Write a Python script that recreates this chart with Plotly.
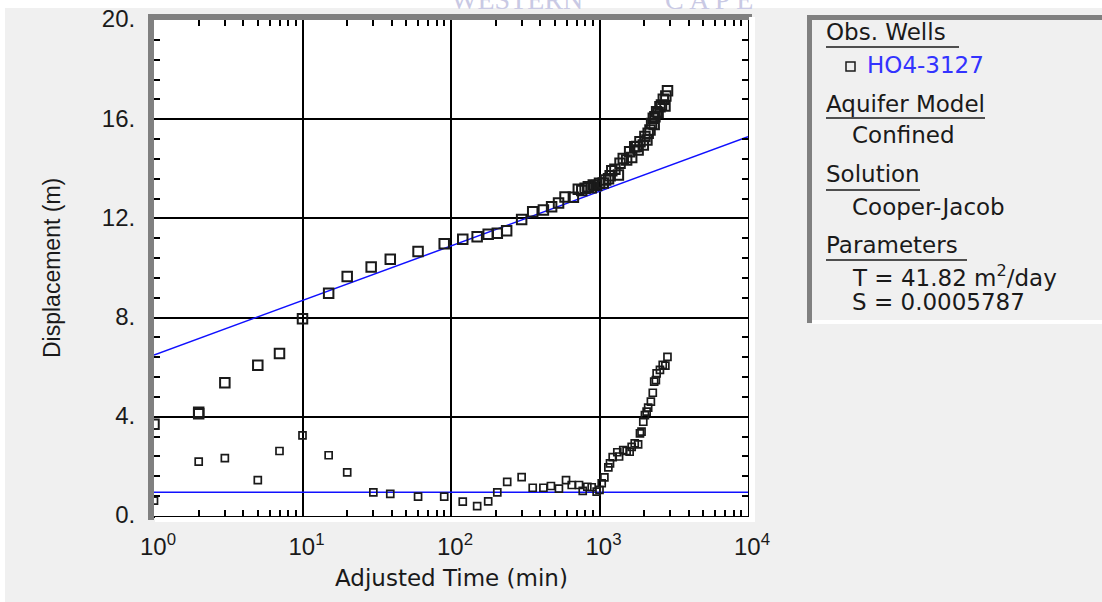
import plotly.graph_objects as go

# Observed drawdown at the observation well (time in min, displacement in m)
obs_time = [1.0, 2.0, 2.0, 3.0, 5.0, 7.0, 10, 15, 20, 29, 39, 60, 90, 120, 150, 178,
            205, 237, 299, 355, 419, 476, 530, 586, 667, 720, 760, 800, 841, 880,
            908, 957, 1000, 1060, 1100, 1150, 1180, 1210, 1270, 1340, 1375, 1445,
            1523, 1596, 1647, 1727, 1780, 1820, 1873, 1972, 2022, 2086, 2127, 2188,
            2244, 2303, 2335, 2361, 2425, 2481, 2553, 2614, 2690, 2760, 2797, 2870]
obs_disp = [3.70, 4.12, 4.18, 5.37, 6.08, 6.55, 7.95, 8.98, 9.66, 10.04, 10.35, 10.67,
            10.98, 11.16, 11.26, 11.36, 11.40, 11.50, 11.96, 12.27, 12.34, 12.47,
            12.62, 12.86, 12.85, 13.18, 13.12, 13.22, 13.28, 13.24, 13.35, 13.33,
            13.42, 13.43, 13.55, 13.60, 13.72, 13.92, 13.98, 13.75, 14.22, 14.42,
            14.35, 14.69, 14.46, 14.89, 14.90, 14.76, 15.09, 14.96, 15.30, 15.16,
            15.43, 15.56, 15.83, 16.04, 15.79, 16.10, 16.30, 16.26, 16.50, 16.57,
            16.80, 16.53, 16.94, 17.15]

# Drawdown derivative
der_time = [1.0, 2.0, 3.0, 5.0, 7.0, 10, 15, 20, 30, 39, 60, 90, 120, 150, 178, 205,
            239, 299, 355, 419, 471, 533, 595, 650, 728, 771, 828, 886, 957, 1000,
            1035, 1079, 1147, 1177, 1227, 1318, 1355, 1445, 1523, 1596, 1647, 1727,
            1820, 1873, 1919, 1972, 2022, 2077, 2127, 2218, 2285, 2335, 2397, 2425,
            2553, 2666, 2777, 2869]
der_disp = [0.62, 2.19, 2.33, 1.45, 2.62, 3.25, 2.45, 1.76, 0.95, 0.89, 0.78, 0.78,
            0.58, 0.40, 0.59, 0.95, 1.38, 1.57, 1.14, 1.14, 1.21, 1.10, 1.45, 1.25,
            1.25, 1.01, 1.18, 1.16, 0.98, 1.05, 1.32, 1.56, 1.96, 2.12, 2.37, 2.57,
            2.40, 2.66, 2.62, 2.59, 2.79, 2.93, 2.89, 3.33, 3.40, 3.80, 4.07, 4.21,
            4.37, 4.61, 4.97, 5.42, 5.48, 5.75, 5.89, 6.09, 6.06, 6.42]

# Cooper-Jacob straight-line fit and its derivative
fit_time = [1.0, 10000.0]
fit_disp = [6.49, 15.29]
fit_der = [0.955, 0.955]

x_tickvals = [1, 10, 100, 1000, 10000]
x_ticktext = ["10<sup>0</sup>", "10<sup>1</sup>", "10<sup>2</sup>",
              "10<sup>3</sup>", "10<sup>4</sup>"]
y_tickvals = [0, 4, 8, 12, 16, 20]
y_ticktext = ["0.", "4.", "8.", "12.", "16.", "20."]

W, H = 1102, 602
PL, PR, PT, PB = 154, 748, 20, 516


def px(x):
    return (x - PL) / (PR - PL)


def py(y):
    return (PB - y) / (PB - PT)


INK = "#1a1a1a"
BEVEL = "#808080"
PANEL = "#f0f0f0"
TICKFONT = dict(family="Liberation Sans, Arial", size=24, color=INK)
TEXTFONT = dict(family="DejaVu Sans", size=23, color=INK)

fig = go.Figure()
fig.add_trace(go.Scatter(x=fit_time, y=fit_disp, mode="lines",
                         line=dict(color="#1010ff", width=1.5), hoverinfo="skip"))
fig.add_trace(go.Scatter(x=fit_time, y=fit_der, mode="lines",
                         line=dict(color="#1010ff", width=1.5), hoverinfo="skip"))
fig.add_trace(go.Scatter(x=obs_time, y=obs_disp, mode="markers",
                         marker=dict(symbol="square-open", size=9.5, color=INK,
                                     line=dict(width=2, color=INK))))
fig.add_trace(go.Scatter(x=der_time, y=der_disp, mode="markers",
                         marker=dict(symbol="square-open", size=7, color=INK,
                                     line=dict(width=1.7, color=INK))))

axis_common = dict(
    showline=True, linecolor="black", linewidth=2, mirror="allticks",
    showgrid=True, gridcolor="black", gridwidth=1.6, zeroline=False,
    ticks="inside", ticklen=6, tickwidth=1.5, tickcolor="black",
    tickfont=TICKFONT, fixedrange=True, automargin=False,
)

fig.update_xaxes(type="log", range=[0, 4], tickmode="array",
                 tickvals=x_tickvals, ticktext=x_ticktext, ticklabelstandoff=8,
                 ticklabelshift=4,
                 minor=dict(ticks="inside", ticklen=6, tickwidth=1.5,
                            tickcolor="black", dtick="D1", showgrid=False),
                 **axis_common)
fig.update_yaxes(range=[0, 20], tickmode="array",
                 tickvals=y_tickvals, ticktext=y_ticktext, ticklabelstandoff=12,
                 ticklabelshift=-1,
                 minor=dict(ticks="inside", ticklen=6, tickwidth=1.5,
                            tickcolor="black", tick0=0, dtick=0.8, showgrid=False),
                 **axis_common)


def rect(x0, y0, x1, y1, fill, line=None):
    return dict(type="rect", xref="paper", yref="paper",
                x0=px(x0), x1=px(x1), y0=py(y1), y1=py(y0),
                fillcolor=fill, line=line or dict(width=0), layer="above")


def hline(x0, x1, y):
    return dict(type="line", xref="paper", yref="paper",
                x0=px(x0), x1=px(x1), y0=py(y), y1=py(y),
                line=dict(color=INK, width=1.5), layer="above")


shapes = [
    # outer white margins
    rect(0, 0, W, 8, "white"),
    rect(0, 0, 5, H, "white"),
    # bevelled frame around the plot area
    rect(148, 14, 154, 520, BEVEL),
    rect(148, 14, 752, 20, BEVEL),
    rect(749, 17, 755, 522, "white"),
    rect(155, 517, 755, 522, "white"),
    # info panel frame
    rect(807, 15, 812, 323, BEVEL),
    rect(807, 15, W, 20, BEVEL),
    rect(812, 320, W, 324, "white"),
    # well symbol
    rect(846, 62, 855, 71, "rgba(0,0,0,0)", dict(color=INK, width=1.5)),
    # heading underlines
    hline(826, 959, 47),
    hline(826, 985, 118),
    hline(826, 920, 190),
    hline(826, 967, 260),
]


def label(text, x, y, color=INK, **kw):
    return dict(text=text, xref="paper", yref="paper", x=px(x), y=py(y),
                xanchor="left", yanchor="middle", showarrow=False,
                font=dict(TEXTFONT, color=color), **kw)


annotations = [
    label("Obs. Wells", 824, 32),
    label("HO4-3127", 865, 65, color="#3333ff"),
    label("Aquifer Model", 824, 104),
    label("Confined", 850, 135),
    label("Solution", 824, 174),
    label("Cooper-Jacob", 850, 207),
    label("Parameters", 824, 245),
    label("T = 41.82 m<sup>2</sup>/day", 850, 276),
    label("S = 0.0005787", 850, 302),
    dict(text="Adjusted Time (min)", xref="paper", yref="paper",
         x=px(451), y=py(578), xanchor="center", yanchor="middle",
         showarrow=False, font=TEXTFONT),
    dict(text="Displacement (m)", xref="paper", yref="paper",
         x=px(52), y=py(268), xanchor="center", yanchor="middle",
         textangle=-90, showarrow=False,
         font=dict(family="Liberation Sans, Arial", size=23, color=INK)),
    dict(text="WESTERN", xref="paper", yref="paper",
         x=px(517), y=py(17), xanchor="center", yanchor="bottom",
         showarrow=False,
         font=dict(family="Liberation Serif, Times New Roman", size=28,
                   color="#c9c9e4")),
    dict(text="C A P E", xref="paper", yref="paper",
         x=px(709), y=py(17), xanchor="center", yanchor="bottom",
         showarrow=False,
         font=dict(family="Liberation Serif, Times New Roman", size=28,
                   color="#c9c9e4")),
]

fig.update_layout(
    width=W, height=H,
    margin=dict(l=PL, r=W - PR, t=PT, b=H - PB, pad=0),
    paper_bgcolor=PANEL, plot_bgcolor="white",
    showlegend=False, hovermode=False,
    shapes=shapes, annotations=annotations,
)

fig.write_html("out.html", config={"displayModeBar": False})
